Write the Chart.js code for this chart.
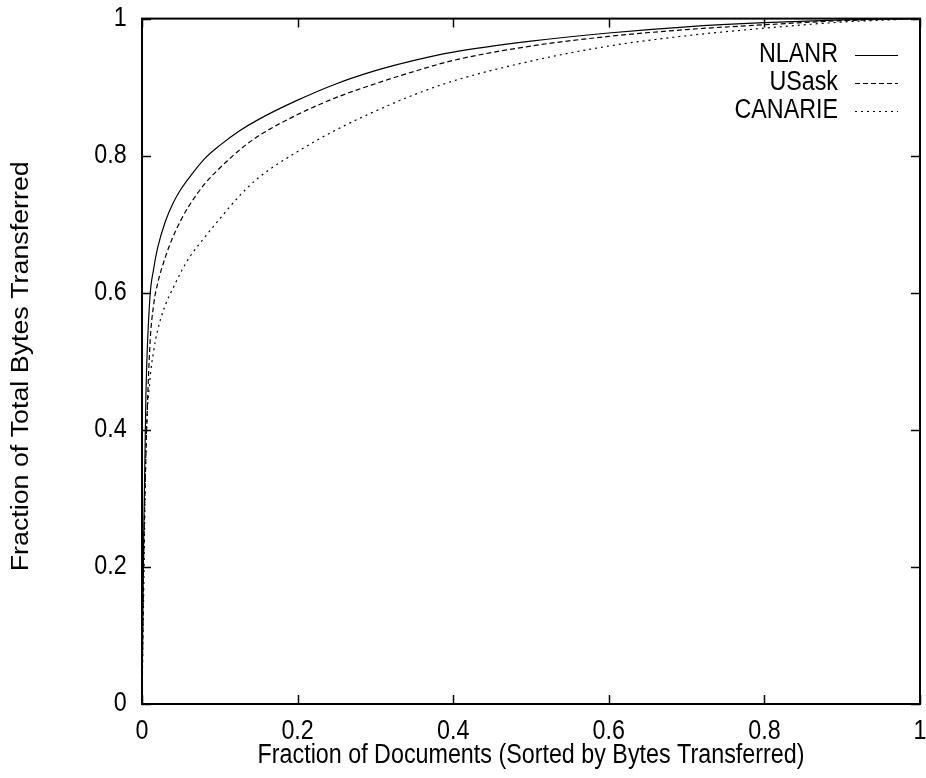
<!DOCTYPE html>
<html>
<head>
<meta charset="utf-8">
<script src="https://cdn.jsdelivr.net/npm/chart.js@4.4.0/dist/chart.umd.min.js"></script>
<style>
  html, body { margin: 0; padding: 0; background: #fff; }
  #wrap { width: 926px; height: 778px; }
</style>
</head>
<body>
<div id="wrap"><canvas id="myChart"></canvas></div>
<script>
// fraction of documents (x) and cumulative fraction of bytes (y) per trace
const docFraction = [0, 0.002, 0.005, 0.01, 0.015, 0.02, 0.03, 0.04, 0.05, 0.06, 0.08, 0.1, 0.125, 0.15, 0.2, 0.25, 0.3, 0.35, 0.4, 0.5, 0.6, 0.7, 0.8, 0.9, 1.0];
const nlanr   = [0, 0.23, 0.45, 0.59, 0.635, 0.665, 0.704, 0.731, 0.751, 0.767, 0.795, 0.815, 0.836, 0.853, 0.881, 0.905, 0.924, 0.939, 0.951, 0.967, 0.979, 0.988, 0.994, 0.998, 1.0];
const usask   = [0, 0.20, 0.36, 0.52, 0.583, 0.613, 0.652, 0.682, 0.706, 0.726, 0.758, 0.782, 0.808, 0.829, 0.860, 0.885, 0.905, 0.923, 0.939, 0.960, 0.974, 0.984, 0.991, 0.997, 1.0];
const canarie = [0, 0.15, 0.37, 0.47, 0.515, 0.545, 0.582, 0.607, 0.630, 0.650, 0.680, 0.708, 0.741, 0.768, 0.806, 0.838, 0.865, 0.889, 0.909, 0.938, 0.960, 0.975, 0.986, 0.995, 1.0];

const seriesNames = ['NLANR', 'USask', 'CANARIE'];
const seriesDash = [[], [5, 3], [2, 4]];
const tickStep = 0.2;

const fontFamily = '"Liberation Sans", Arial, sans-serif';
const fontSize = 23.3;
const stretch = 1.15; // the original text looks tall and narrow

function toPoints(ys) {
  return docFraction.map(function (x, i) { return { x: x, y: ys[i] }; });
}

function tallText(c, text, x, y, align, rotate) {
  c.save();
  c.translate(x, y);
  if (rotate) {
    c.rotate(-Math.PI / 2);
    c.scale(stretch, 1);
  } else {
    c.scale(1, stretch);
  }
  c.font = fontSize + 'px ' + fontFamily;
  c.textAlign = align;
  c.textBaseline = 'middle';
  c.fillStyle = '#000';
  c.fillText(text, 0, 0);
  c.restore();
}

// box round the plot with ticks pointing inwards, like gnuplot
const framePlugin = {
  id: 'frame',
  afterDraw: function (chart) {
    const c = chart.ctx;
    const a = chart.chartArea;
    const sx = chart.scales.x, sy = chart.scales.y;
    const len = 9;
    c.save();
    c.strokeStyle = '#000';
    c.lineWidth = 1.5;
    c.beginPath();
    sx.ticks.forEach(function (t) {
      const px = Math.round(sx.getPixelForValue(t.value)) + 0.5;
      c.moveTo(px, a.bottom); c.lineTo(px, a.bottom - len);
      c.moveTo(px, a.top); c.lineTo(px, a.top + len);
    });
    sy.ticks.forEach(function (t) {
      const py = Math.round(sy.getPixelForValue(t.value)) + 0.5;
      c.moveTo(a.left, py); c.lineTo(a.left + len, py);
      c.moveTo(a.right, py); c.lineTo(a.right - len, py);
    });
    c.stroke();
    c.lineWidth = 2;
    c.strokeRect(a.left, a.top, a.right - a.left, a.bottom - a.top);
    c.restore();

    // tick labels and axis titles
    sx.ticks.forEach(function (t) {
      tallText(c, t.label, sx.getPixelForValue(t.value), a.bottom + 27.5, 'center');
    });
    sy.ticks.forEach(function (t) {
      tallText(c, t.label, a.left - 15.3, sy.getPixelForValue(t.value), 'right');
    });
    tallText(c, sx.options.title.text, (a.left + a.right) / 2, a.bottom + 52, 'center');
    tallText(c, sy.options.title.text, 22, (a.top + a.bottom) / 2 + 5, 'center', true);
  }
};

// legend in the top right corner: text first, then the line sample
const keyPlugin = {
  id: 'key',
  afterDraw: function (chart) {
    const c = chart.ctx;
    const a = chart.chartArea;
    chart.data.datasets.forEach(function (ds, i) {
      const y = a.top + 36.4 + i * 27.75;
      tallText(c, ds.label, a.right - 82, y, 'right');
      c.save();
      c.beginPath();
      c.setLineDash(ds.borderDash || []);
      c.lineWidth = 1.2;
      c.strokeStyle = '#000';
      c.moveTo(a.right - 65, Math.round(y) + 0.5);
      c.lineTo(a.right - 22, Math.round(y) + 0.5);
      c.stroke();
      c.restore();
    });
  }
};

function fixAxis(size, horizontal) {
  return function (scale) {
    if (horizontal) scale.height = size; else scale.width = size;
    scale.paddingLeft = 0;
    scale.paddingRight = 0;
    scale.paddingTop = 0;
    scale.paddingBottom = 0;
  };
}

const ctx = document.getElementById('myChart');
const myChart = new Chart(ctx, {
  type: 'line',
  data: {
    datasets: [
      { label: seriesNames[0], data: toPoints(nlanr), borderDash: seriesDash[0] },
      { label: seriesNames[1], data: toPoints(usask), borderDash: seriesDash[1] },
      { label: seriesNames[2], data: toPoints(canarie), borderDash: seriesDash[2] }
    ].map(function (ds) {
      ds.borderColor = '#000';
      ds.borderWidth = 1.2;
      ds.pointRadius = 0;
      ds.fill = false;
      ds.cubicInterpolationMode = 'monotone';
      return ds;
    })
  },
  options: {
    responsive: true,
    maintainAspectRatio: false,
    animation: false,
    layout: { padding: { top: 18.6, right: 6, left: 0, bottom: 0 } },
    plugins: {
      legend: { display: false },
      tooltip: { enabled: false }
    },
    scales: {
      x: {
        type: 'linear',
        min: 0,
        max: 1,
        ticks: { stepSize: tickStep, display: false, callback: function (v) { return String(+v.toFixed(1)); } },
        grid: { display: false, drawTicks: false },
        border: { display: false },
        title: { display: false, text: 'Fraction of Documents (Sorted by Bytes Transferred)' },
        afterFit: fixAxis(74, true)
      },
      y: {
        min: 0,
        max: 1,
        ticks: { stepSize: tickStep, display: false, callback: function (v) { return String(+v.toFixed(1)); } },
        grid: { display: false, drawTicks: false },
        border: { display: false },
        title: { display: false, text: 'Fraction of Total Bytes Transferred' },
        afterFit: fixAxis(142, false)
      }
    }
  },
  plugins: [framePlugin, keyPlugin]
});
</script>
</body>
</html>
